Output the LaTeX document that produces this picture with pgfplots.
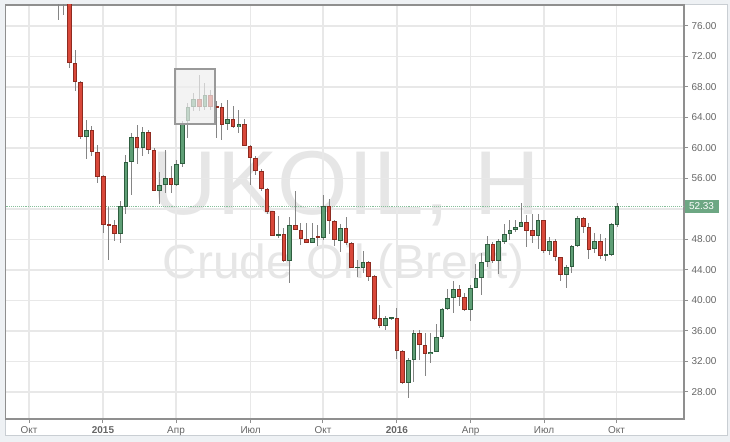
\documentclass[border=0pt]{standalone}
\usepackage{fontspec}
\setmainfont{Liberation Sans}
\usepackage{pgfplots}
\usepackage{pgfplotstable}
\pgfplotsset{compat=1.18}
\definecolor{redfill}{HTML}{D9483A}
\definecolor{redline}{HTML}{8E2B20}
\definecolor{grnfill}{HTML}{5F9F76}
\definecolor{grnline}{HTML}{2E5E3F}
\definecolor{wick}{HTML}{858585}
\definecolor{gridc}{HTML}{E8E8E8}
\definecolor{axc}{HTML}{8F8F8F}
\definecolor{wm}{HTML}{E6E6E6}
\definecolor{bgc}{HTML}{EEF1F4}
\definecolor{panelb}{HTML}{C9CED3}
\definecolor{pricec}{HTML}{6DA783}
\definecolor{dotc}{HTML}{86BF9A}
\definecolor{tickc}{HTML}{666666}
\definecolor{boxc}{HTML}{EEEEEE}
\definecolor{boxl}{HTML}{999999}

\pgfplotstableread{
k o h l c
1 80.3 80.8 77.4 79.0
2 79.5 80.0 70.5 71.1
3 71.1 72.9 67.5 68.6
4 68.6 68.8 61.2 61.4
6 62.4 62.9 58.9 59.5
7 59.5 60.4 55.45 56.2
8 56.3 56.4 48.9 49.9
9 50.0 52.3 45.3 49.9
10 49.9 50.5 47.8 48.7
14 61.4 63.0 57.9 60.0
16 62.1 62.3 59.2 59.7
17 59.7 60.0 54.3 54.4
20 56.0 57.6 54.05 55.1
25 66.4 69.6 64.8 65.4
27 67.0 67.6 65.0 65.4
28 65.5 66.1 61.3 65.3
29 65.4 65.9 61.05 63.0
31 63.8 65.5 62.6 62.8
33 63.1 63.8 60.2 60.3
34 60.3 60.4 55.1 58.65
35 58.7 59.0 56.4 57.0
36 57.0 57.3 54.3 54.6
37 54.6 54.7 51.4 51.65
38 51.7 51.8 48.4 48.5
40 48.7 49.5 45.1 45.2
42 49.9 54.4 49.2 49.3
43 49.3 50.2 47.3 48.0
44 48.0 50.2 47.5 47.6
46 48.4 49.9 47.1 48.15
48 52.4 53.3 48.7 50.4
49 50.4 50.5 47.2 47.9
51 49.5 50.9 47.3 47.5
52 47.6 47.7 44.2 44.3
55 45.0 45.2 42.5 43.1
56 43.2 43.3 37.5 37.6
57 37.7 39.4 36.4 36.6
60 37.75 39.0 32.3 33.4
61 33.4 33.5 29.0 29.2
64 35.8 36.1 32.2 34.1
65 34.1 35.7 30.1 32.95
71 41.5 42.0 39.3 40.4
72 40.4 40.95 38.6 38.7
77 47.4 47.7 44.9 45.2
83 50.3 51.2 47.0 49.15
84 49.25 51.3 47.5 48.4
86 50.55 50.6 46.2 46.5
88 47.85 48.1 45.2 45.65
89 45.65 45.7 42.6 43.3
93 50.8 51.0 48.9 49.7
94 49.7 50.1 45.4 46.6
96 47.85 48.7 45.5 45.9
}\redtab

\pgfplotstableread{
k o h l c
0 79.2 81.0 76.8 80.0
5 61.4 63.7 58.5 62.4
11 48.7 53.0 47.6 52.4
12 52.2 59.1 51.4 58.1
13 58.1 62.0 53.9 61.5
15 60.0 62.7 58.9 62.1
18 54.4 56.8 52.7 55.15
19 55.1 59.8 54.1 56.0
21 55.1 58.4 55.0 57.9
22 57.9 63.5 57.5 63.2
23 63.6 65.9 61.35 65.4
24 65.4 67.2 64.8 66.4
26 65.4 68.5 65.0 67.0
30 63.1 66.3 62.3 63.8
32 62.8 65.0 62.0 63.1
39 48.5 51.1 48.2 48.7
41 45.2 50.9 42.3 49.9
45 47.6 50.2 47.5 48.2
47 48.15 53.9 48.0 52.4
50 47.8 50.0 46.4 49.5
53 44.3 45.3 43.1 44.4
54 44.3 46.5 43.6 45.0
58 36.6 38.0 36.1 37.75
59 37.6 37.9 37.5 37.8
62 29.2 32.4 27.2 32.2
63 32.2 36.1 29.35 35.8
66 32.95 35.7 31.85 33.3
67 33.3 36.9 33.2 35.25
68 35.2 39.0 35.0 38.85
69 38.85 41.5 38.7 40.3
70 40.3 42.55 38.4 41.5
73 38.7 42.0 37.35 41.7
74 41.7 44.8 41.6 42.9
75 42.9 46.2 40.7 45.1
76 45.1 48.4 44.35 47.4
78 45.2 48.0 43.5 47.8
79 47.7 50.0 47.4 48.7
80 48.7 50.55 47.9 49.3
81 49.3 50.55 49.0 49.7
82 49.7 52.75 49.6 50.3
85 48.4 51.3 46.7 50.55
87 46.5 48.3 46.0 47.85
90 43.3 44.6 41.6 44.35
91 44.35 47.3 43.6 47.1
92 47.1 51.1 47.0 50.8
95 46.7 48.8 46.2 47.85
97 45.9 48.2 45.2 46.05
98 46.0 50.2 45.8 50.0
99 49.9 52.75 49.7 52.33
}\grntab

\pgfplotsset{
  candlebar/.style n args={2}{draw=none, mark=none, forget plot,
    error bars/.cd, y dir=both, y explicit, error mark=none,
    error bar style={draw=#1, line width=#2, solid}},
}

\begin{document}
\begin{tikzpicture}
\useasboundingbox (-5.7bp,-23bp) rectangle (724.3bp,419bp);
\fill[bgc] (-5.7bp,-23bp) rectangle (724.3bp,419bp);
\filldraw[fill=white, draw=panelb, line width=1bp] (0,-16bp) rectangle (722bp,414bp);
\node[anchor=base, text=wm, font=\fontsize{91}{91}\selectfont, inner sep=0] at (340.2bp,204bp) {UKOIL, H};
\node[anchor=base, text=wm, font=\fontsize{48}{48}\selectfont, inner sep=0] at (337.8bp,140bp) {Crude Oil (Brent)};
\begin{axis}[
  scale only axis, width=678.3bp, height=414bp,
  xmin=-9.279, xmax=110.84, ymin=24.459, ymax=78.754,
  axis line style={draw=axc, line width=1.2bp},
  xtick={-5.15,7.95,20.88,34.1,46.9,60.0,73.07,86.05,98.9},
  xticklabels={Окт,\textbf{2015},Апр,Июл,Окт,\textbf{2016},Апр,Июл,Окт},
  ytick={28,32,...,76},
  ytick pos=right, yticklabel pos=right, xtick pos=bottom,
  tick align=outside, major tick length=4bp,
  tick style={draw=axc, line width=1bp},
  grid=major, major grid style={draw=gridc, line width=1.2bp},
  ticklabel style={font=\fontsize{10}{12}\selectfont, text=tickc},
  /pgf/number format/assume math mode=true,
  yticklabel={\pgfmathprintnumber[fixed,fixed zerofill,precision=2]{\tick}},
]
\addplot[dotc, densely dotted, line width=0.9bp, forget plot] coordinates {(-9.3,52.33) (110.9,52.33)};
% wicks
\addplot[candlebar={wick}{1bp}] table[x=k, y expr={(\thisrow{h}+\thisrow{l})/2}, y error expr={(\thisrow{h}-\thisrow{l})/2}] \redtab;
\addplot[candlebar={wick}{1bp}] table[x=k, y expr={(\thisrow{h}+\thisrow{l})/2}, y error expr={(\thisrow{h}-\thisrow{l})/2}] \grntab;
% body outlines
\addplot[candlebar={redline}{4.6bp}] table[x=k, y expr={(\thisrow{o}+\thisrow{c})/2}, y error expr={max(abs(\thisrow{c}-\thisrow{o})/2,0.07)}] \redtab;
\addplot[candlebar={grnline}{4.6bp}] table[x=k, y expr={(\thisrow{o}+\thisrow{c})/2}, y error expr={max(abs(\thisrow{c}-\thisrow{o})/2,0.07)}] \grntab;
% body fills
\addplot[candlebar={redfill}{2.6bp}] table[x=k, y expr={(\thisrow{o}+\thisrow{c})/2}, y error expr={max(abs(\thisrow{c}-\thisrow{o})/2-0.131,0)}] \redtab;
\addplot[candlebar={grnfill}{2.6bp}] table[x=k, y expr={(\thisrow{o}+\thisrow{c})/2}, y error expr={max(abs(\thisrow{c}-\thisrow{o})/2-0.131,0)}] \grntab;
\draw[draw=boxl, line width=1.3bp, fill=boxc, fill opacity=0.7] (axis cs:20.7,63.15) rectangle (axis cs:27.78,70.36);
\coordinate (pl) at (axis cs:110.84,52.33);
\end{axis}
\node[fill=pricec, text=white, anchor=west, inner xsep=4.5bp, inner ysep=0bp, minimum height=13bp, font=\fontsize{10}{12}\selectfont] at ([xshift=0.4bp]pl) {52.33};
\end{tikzpicture}
\end{document}
